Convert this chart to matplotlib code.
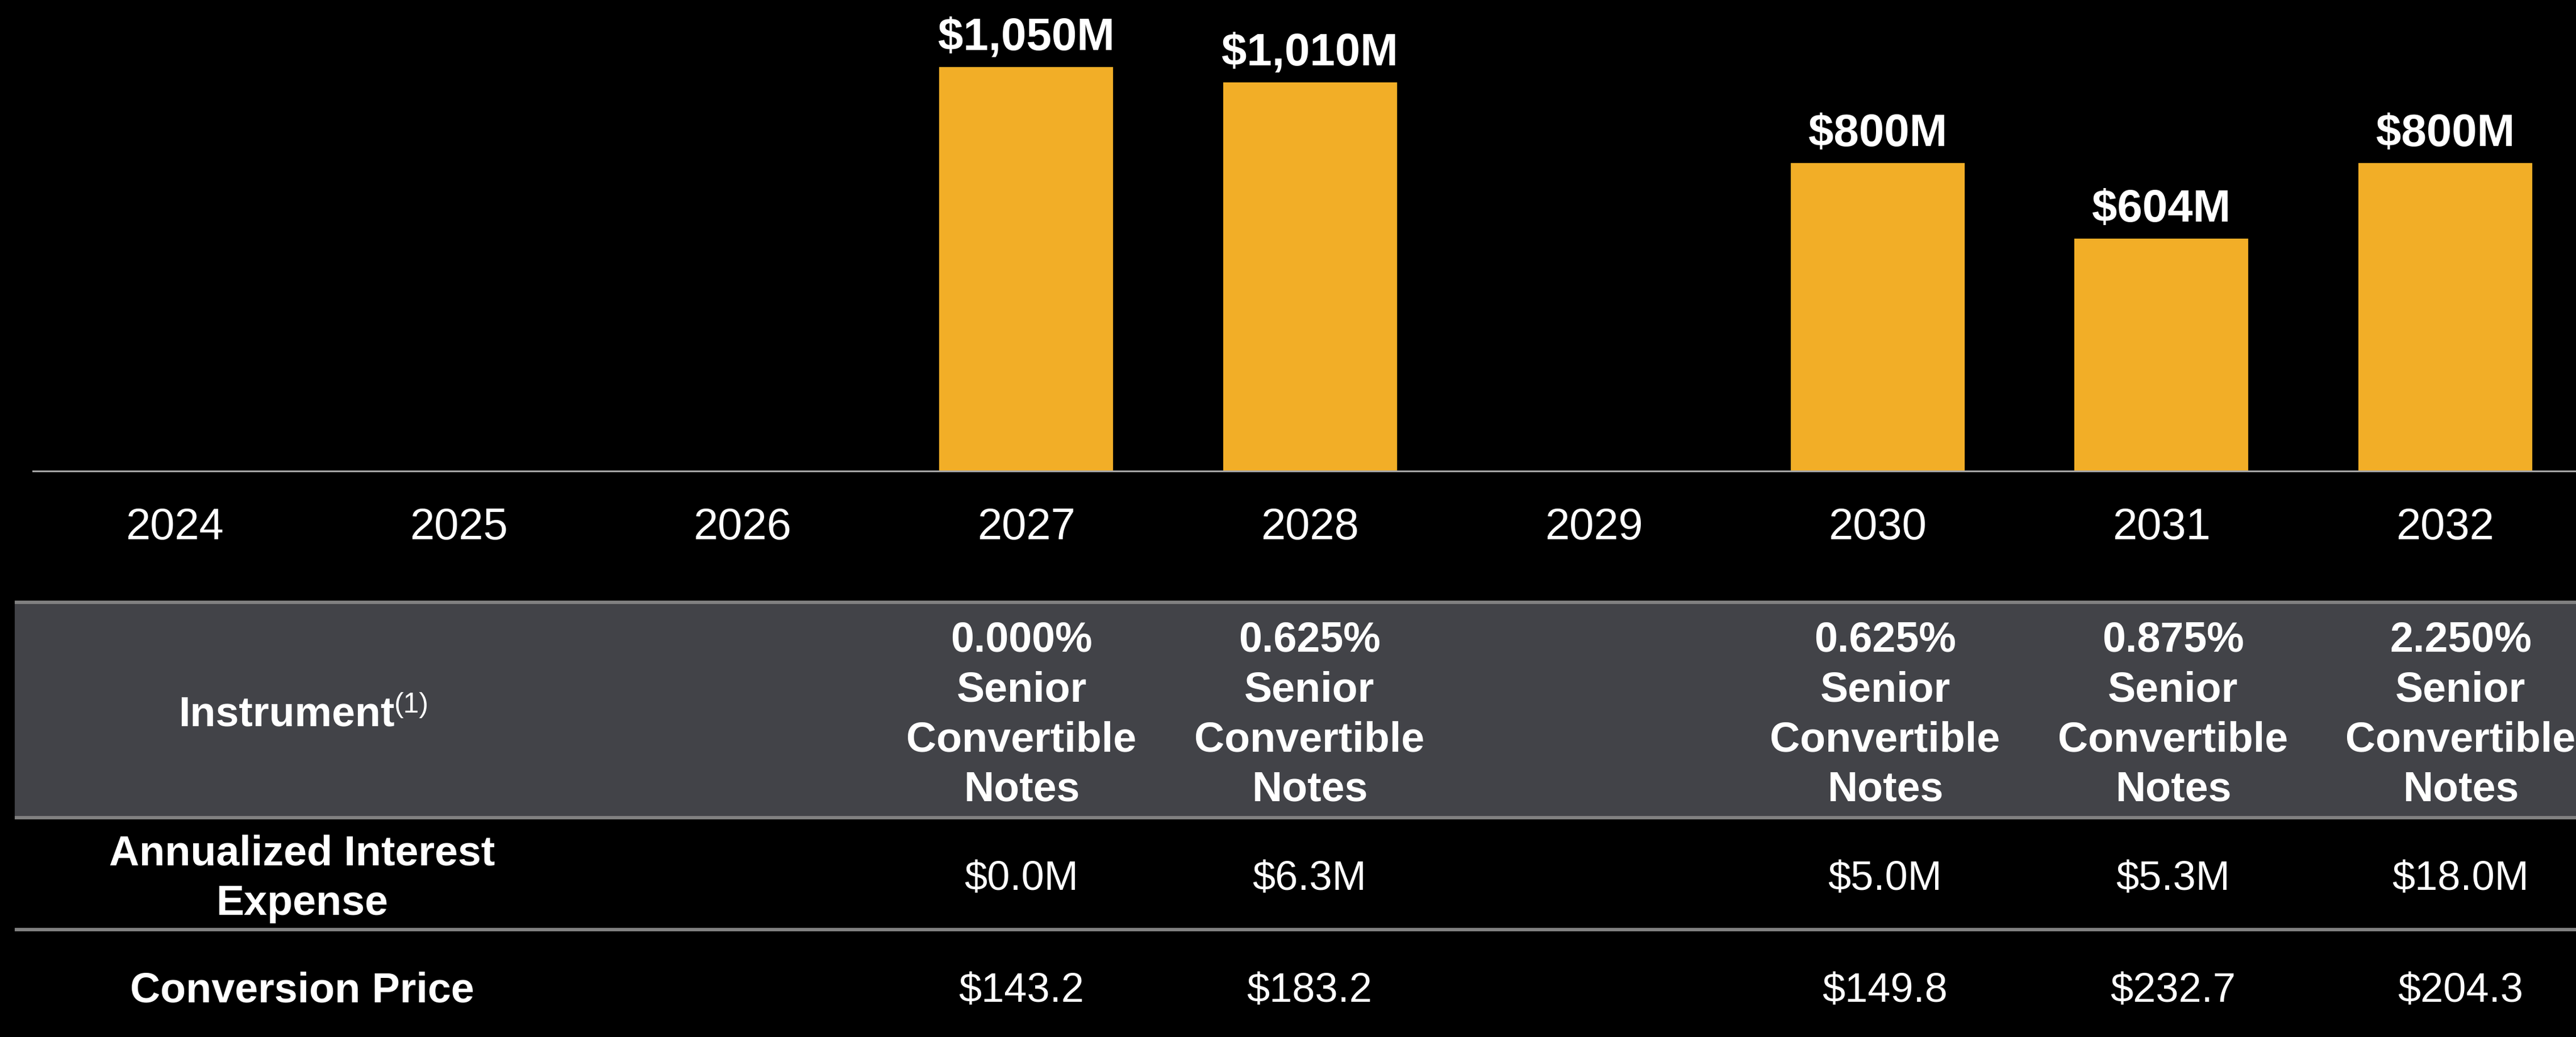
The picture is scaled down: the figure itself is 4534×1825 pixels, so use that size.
import matplotlib
matplotlib.use("Agg")
import matplotlib.pyplot as plt
from matplotlib.patches import Rectangle

plt.rcParams['font.family'] = ['Liberation Sans', 'DejaVu Sans']

# ---------------- data ----------------
years = ['2024', '2025', '2026', '2027', '2028', '2029', '2030', '2031', '2032']
amounts = [0, 0, 0, 1050, 1010, 0, 800, 604, 800]          # $M maturing
amount_labels = ['', '', '', '$1,050M', '$1,010M', '', '$800M', '$604M', '$800M']

note_years = ['2027', '2028', '2030', '2031', '2032']
note_rates = ['0.000%', '0.625%', '0.625%', '0.875%', '2.250%']
interest = ['$0.0M', '$6.3M', '$5.0M', '$5.3M', '$18.0M']
conv_price = ['$143.2', '$183.2', '$149.8', '$232.7', '$204.3']

# ---------------- style ----------------
W, H = 4534, 1825
DPI = 100
BAR = '#F2AE27'
HEAD = '#424348'
LINE = '#808080'

fig = plt.figure(figsize=(W / DPI, H / DPI), dpi=DPI, facecolor='black')

def px(v):  # pixels -> points
    return v * 72.0 / DPI

# ---------------- bar chart ----------------
ax_left, ax_top, ax_base = 58, 0, 829
ax = fig.add_axes([ax_left / W, (H - ax_base) / H, (W - ax_left) / W, (ax_base - ax_top) / H])
ax.set_facecolor('black')
x = list(range(len(years)))
ax.bar(x, amounts, width=0.613, color=BAR, zorder=2)
ax.set_xlim(-0.5, 8.461)
ax.set_ylim(0, 1224)
for s in ['top', 'right', 'left']:
    ax.spines[s].set_visible(False)
ax.spines['bottom'].set_color('#A6A6A6')
ax.spines['bottom'].set_linewidth(px(3))
ax.set_yticks([])
ax.set_xticks(x)
ax.set_xticklabels(years, fontsize=56, color='white', va='baseline')
ax.tick_params(axis='x', length=0, pad=px(120))

for xi, v, lab in zip(x, amounts, amount_labels):
    if lab:
        ax.annotate(lab, xy=(xi, v), xytext=(0, px(30)), textcoords='offset points',
                    ha='center', va='baseline', fontsize=57.5, fontweight='bold',
                    color='white')

# ---------------- table ----------------
tab = fig.add_axes([0, 0, 1, 1])
tab.set_xlim(0, W)
tab.set_ylim(H, 0)
tab.axis('off')
tab.patch.set_alpha(0)

tleft = 26
tab.add_patch(Rectangle((tleft, 1061), W - tleft, 1438 - 1061, facecolor=HEAD, edgecolor='none'))
for yy in [1060, 1438.5, 1636]:
    tab.plot([tleft, W], [yy, yy], color=LINE, lw=px(6), solid_capstyle='butt')

col_x = [1798, 2305, 3318, 3825, 4331]
label_x = 532
LS = 1.35

# header row (multi-line text: baseline alignment refers to the last line)
tab.text(314, 1278, 'Instrument', ha='left', va='baseline', fontsize=53,
         fontweight='bold', color='white')
tab.text(694, 1254, '(1)', ha='left', va='baseline', fontsize=36, color='white')
for cx, r in zip(col_x, note_rates):
    tab.text(cx, 1410, f'{r}\nSenior\nConvertible\nNotes', ha='center', va='baseline',
             fontsize=53, fontweight='bold', color='white', linespacing=LS,
             clip_on=True)

# interest row
tab.text(label_x, 1610, 'Annualized Interest\nExpense', ha='center', va='baseline',
         fontsize=53, fontweight='bold', color='white', linespacing=LS)
for cx, v in zip(col_x, interest):
    tab.text(cx, 1566, v, ha='center', va='baseline', fontsize=52, color='white')

# conversion price row
tab.text(label_x, 1763, 'Conversion Price', ha='center', va='baseline',
         fontsize=53, fontweight='bold', color='white')
for cx, v in zip(col_x, conv_price):
    tab.text(cx, 1763, v, ha='center', va='baseline', fontsize=52, color='white')

fig.savefig('out.png', dpi=DPI, facecolor='black')
